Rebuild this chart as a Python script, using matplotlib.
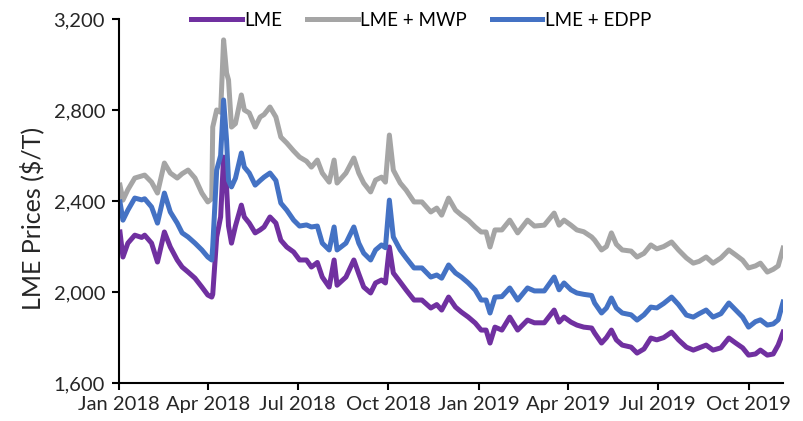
import matplotlib
matplotlib.use("Agg")
import matplotlib.pyplot as plt
import matplotlib.dates as mdates
from matplotlib.ticker import FuncFormatter
import pandas as pd

dates = [
    "2018-01-02", "2018-01-05", "2018-01-10", "2018-01-17", "2018-01-24", "2018-01-27",
    "2018-02-03", "2018-02-09", "2018-02-16", "2018-02-22", "2018-03-01", "2018-03-06",
    "2018-03-12", "2018-03-19", "2018-03-26", "2018-04-01", "2018-04-05", "2018-04-06",
    "2018-04-10", "2018-04-14", "2018-04-17", "2018-04-20", "2018-04-22", "2018-04-25",
    "2018-04-29", "2018-05-05", "2018-05-08", "2018-05-13", "2018-05-19", "2018-05-24",
    "2018-05-28", "2018-06-03", "2018-06-09", "2018-06-14", "2018-06-20", "2018-06-27",
    "2018-07-03", "2018-07-10", "2018-07-15", "2018-07-21", "2018-07-26", "2018-08-02",
    "2018-08-07", "2018-08-10", "2018-08-19", "2018-08-27", "2018-09-01", "2018-09-06",
    "2018-09-13", "2018-09-18", "2018-09-24", "2018-09-28", "2018-10-02", "2018-10-06",
    "2018-10-13", "2018-10-19", "2018-10-27", "2018-11-04", "2018-11-13", "2018-11-19",
    "2018-11-24", "2018-12-01", "2018-12-08", "2018-12-14", "2018-12-21", "2018-12-28",
    "2019-01-03", "2019-01-08", "2019-01-12", "2019-01-17", "2019-01-24", "2019-02-01",
    "2019-02-09", "2019-02-19", "2019-02-26", "2019-03-08", "2019-03-18", "2019-03-23",
    "2019-03-28", "2019-04-04", "2019-04-10", "2019-04-17", "2019-04-25", "2019-04-28",
    "2019-05-05", "2019-05-10", "2019-05-15", "2019-05-20", "2019-05-26", "2019-06-04",
    "2019-06-10", "2019-06-17", "2019-06-24", "2019-06-30", "2019-07-07", "2019-07-15",
    "2019-07-22", "2019-07-30", "2019-08-06", "2019-08-12", "2019-08-19", "2019-08-26",
    "2019-09-03", "2019-09-11", "2019-09-18", "2019-09-25", "2019-10-01", "2019-10-08",
    "2019-10-13", "2019-10-20", "2019-10-26", "2019-10-31", "2019-11-05",
]

lme = [
    2264, 2154, 2215, 2250, 2240, 2250, 2215, 2132, 2264, 2198, 2141, 2110,
    2088, 2061, 2022, 1987, 1978, 1990, 2242, 2330, 2593, 2462, 2290, 2215,
    2290, 2382, 2330, 2303, 2260, 2273, 2286, 2330, 2303, 2228, 2198, 2176,
    2141, 2141, 2110, 2130, 2066, 2022, 2141, 2030, 2066, 2141, 2080, 2022,
    1996, 2040, 2053, 2040, 2198, 2084, 2044, 2009, 1965, 1965, 1930, 1945,
    1921, 1978, 1934, 1912, 1890, 1864, 1833, 1833, 1776, 1846, 1833, 1890,
    1833, 1877, 1865, 1865, 1921, 1868, 1890, 1868, 1855, 1846, 1842, 1820,
    1776, 1800, 1833, 1790, 1767, 1758, 1732, 1750, 1798, 1790, 1800, 1824,
    1790, 1758, 1745, 1755, 1767, 1745, 1755, 1798, 1776, 1755, 1723, 1728,
    1745, 1723, 1728, 1767, 1824,
]

lme_mwp = [
    2470, 2404, 2450, 2501, 2510, 2514, 2483, 2435, 2567, 2523, 2501, 2520,
    2536, 2501, 2435, 2396, 2410, 2725, 2800, 2790, 3108, 2963, 2932, 2725,
    2740, 2866, 2800, 2787, 2725, 2769, 2780, 2813, 2769, 2681, 2655, 2620,
    2593, 2575, 2549, 2580, 2523, 2483, 2580, 2479, 2523, 2589, 2523, 2479,
    2440, 2492, 2505, 2483, 2690, 2536, 2479, 2448, 2396, 2396, 2352, 2369,
    2338, 2413, 2360, 2338, 2316, 2286, 2264, 2264, 2198, 2273, 2273, 2316,
    2260, 2316, 2290, 2294, 2347, 2294, 2316, 2294, 2273, 2265, 2242, 2228,
    2185, 2200, 2260, 2210, 2185, 2180, 2154, 2170, 2207, 2190, 2200, 2220,
    2185, 2150, 2127, 2135, 2154, 2127, 2150, 2185, 2163, 2140, 2106, 2115,
    2127, 2088, 2100, 2115, 2193,
]

lme_edpp = [
    2396, 2316, 2360, 2413, 2405, 2410, 2374, 2303, 2435, 2352, 2303, 2260,
    2242, 2215, 2185, 2154, 2141, 2200, 2536, 2600, 2844, 2668, 2490, 2462,
    2500, 2611, 2549, 2523, 2470, 2490, 2505, 2523, 2490, 2391, 2360, 2316,
    2290, 2295, 2286, 2290, 2215, 2185, 2286, 2185, 2215, 2286, 2215, 2171,
    2141, 2185, 2207, 2195, 2404, 2242, 2185, 2150, 2106, 2106, 2066, 2075,
    2061, 2119, 2084, 2066, 2040, 2009, 1965, 1965, 1908, 1978, 1980, 2018,
    1965, 2018, 2005, 2005, 2066, 2010, 2040, 2010, 1996, 1990, 1985, 1952,
    1908, 1930, 1974, 1930, 1908, 1900, 1877, 1900, 1934, 1930, 1950, 1978,
    1945, 1899, 1890, 1905, 1921, 1890, 1905, 1952, 1921, 1890, 1846, 1870,
    1878, 1855, 1860, 1878, 1956,
]

series_names = ["LME", "LME + MWP", "LME + EDPP"]
colors = ["#7030A0", "#A5A5A5", "#4472C4"]
y_ticks = [1600, 2000, 2400, 2800, 3200]
x_ticks = ["2018-01-01", "2018-04-01", "2018-07-01", "2018-10-01",
           "2019-01-01", "2019-04-01", "2019-07-01", "2019-10-01"]

plt.rcParams["font.family"] = ["Lato", "DejaVu Sans"]

d = pd.to_datetime(dates)
fig = plt.figure(figsize=(8.04, 4.21), dpi=100)
ax = fig.add_axes([0.148, 0.090, 0.826, 0.865])

for vals, name, c in zip([lme, lme_mwp, lme_edpp], series_names, colors):
    ax.plot(d, vals, color=c, lw=3.6, label=name, solid_joinstyle="round")

ax.set_ylim(1600, 3200)
ax.set_yticks(y_ticks)
ax.yaxis.set_major_formatter(FuncFormatter(lambda v, p: f"{int(v):,}"))
ax.set_xlim(pd.Timestamp("2018-01-01"), pd.Timestamp("2019-11-05"))
ax.set_xticks(pd.to_datetime(x_ticks))
ax.xaxis.set_major_formatter(mdates.DateFormatter("%b %Y"))

for s in ["top", "right"]:
    ax.spines[s].set_visible(False)
for s in ["left", "bottom"]:
    ax.spines[s].set_linewidth(1.5)
    ax.spines[s].set_color("black")
ax.tick_params(axis="both", direction="out", length=5, width=1.5, labelsize=14.5,
               colors="black", labelcolor="#262626")
ax.tick_params(axis="y", pad=5)
ax.tick_params(axis="x", pad=4)
ax.set_ylabel("LME Prices ($/T)", fontsize=18, color="#262626")
ax.yaxis.set_label_coords(-0.113, 0.453)

fig.legend(loc="upper center", bbox_to_anchor=(0.524, 1.012), ncol=3, frameon=False,
           fontsize=13.5, handlelength=2.7, handletextpad=0.15, columnspacing=1.3)

fig.savefig("out.png", dpi=100)
